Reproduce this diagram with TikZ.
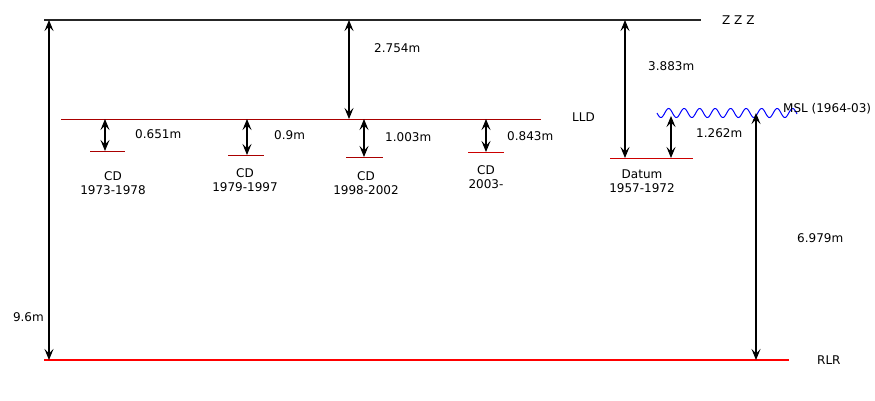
\documentclass[tikz,border=0pt]{standalone}
\usepackage{fontspec}
\setmainfont{DejaVu Sans}
\usetikzlibrary{arrows.meta}
\definecolor{lldred}{RGB}{170,0,0}
\definecolor{cdred}{RGB}{204,0,0}
\definecolor{rlrred}{RGB}{255,0,0}
\definecolor{mslblue}{RGB}{0,0,255}
\tikzset{
    refline/.style={line width=1pt, draw=lldred},
    topline/.style={line width=2pt, draw=black!85},
    baseline/.style={line width=2pt, draw=rlrred},
    dimarrow/.style={line width=1.1pt, {Stealth[length=11pt,width=9pt,inset=4.5pt]}-{Stealth[length=11pt,width=9pt,inset=4.5pt]}},
    tag/.style={inner sep=0pt, anchor=west, font=\fontsize{12}{14.5}\selectfont},
    cdtag/.style={inner sep=0pt, align=center, font=\fontsize{12}{14.5}\selectfont}
}
\begin{document}
\begin{tikzpicture}[x=1pt, y=-1pt]
    \useasboundingbox (0,0) rectangle (875,400);
    % levels
    \draw [topline] (44,20) -- (701,20);
    \draw [refline] (61,119) -- (541,119);
    \draw [refline] (90,151) -- (125,151);
    \draw [refline] (228,155) -- (264,155);
    \draw [refline] (346,157) -- (383,157);
    \draw [refline, draw=cdred] (468,152) -- (504,152);
    \draw [refline, draw=cdred] (610,158) -- (693,158);
    \draw [baseline] (44,360) -- (789,360);
    \draw [mslblue, line width=1pt] plot[domain=0:140, samples=240] ({657+\x}, {113+4.5*sin(\x/15.5*360)});
    % arrow ends
    \coordinate (zzz1) at (49,20);   \coordinate (rlr1) at (49,360);
    \coordinate (zzz2) at (349,20);  \coordinate (lld2) at (349,119);
    \coordinate (zzz3) at (625,20);  \coordinate (dat3) at (625,158);
    \coordinate (msl4) at (671,116); \coordinate (dat4) at (671,158);
    \coordinate (msl5) at (756,113); \coordinate (rlr5) at (756,360);
    \coordinate (lldA) at (105,119); \coordinate (cdA) at (105,151);
    \coordinate (lldB) at (247,119); \coordinate (cdB) at (247,155);
    \coordinate (lldC) at (364,119); \coordinate (cdC) at (364,157);
    \coordinate (lldD) at (486,119); \coordinate (cdD) at (486,152);
    \draw [dimarrow] (zzz1) -- (rlr1);
    \draw [dimarrow] (zzz2) -- (lld2);
    \draw [dimarrow] (zzz3) -- (dat3);
    \draw [dimarrow] (msl4) -- (dat4);
    \draw [dimarrow] (msl5) -- (rlr5);
    \draw [dimarrow] (lldA) -- (cdA);
    \draw [dimarrow] (lldB) -- (cdB);
    \draw [dimarrow] (lldC) -- (cdC);
    \draw [dimarrow] (lldD) -- (cdD);
    % labels
    \node (zzz) [tag] at (722,20) {Z Z Z};
    \node (lld) [tag] at (572,117) {LLD};
    \node (rlr) [tag] at (817,360) {RLR};
    \node (msl) [tag] at (783,109) {MSL (1964-03)};
    \node (d96) [tag, anchor=east] at (44,317) {9.6m};
    \node (d2754) [tag] at (374,48) {2.754m};
    \node (d3883) [tag] at (648,66) {3.883m};
    \node (d1262) [tag] at (696,133) {1.262m};
    \node (d6979) [tag] at (797,238) {6.979m};
    \node (d0651) [tag] at (135,134) {0.651m};
    \node (d09) [tag] at (274,135) {0.9m};
    \node (d1003) [tag] at (385,137) {1.003m};
    \node (d0843) [tag] at (507,136) {0.843m};
    \node (cdtA) [cdtag] at (113,183) {CD\\1973-1978};
    \node (cdtB) [cdtag] at (245,180) {CD\\1979-1997};
    \node (cdtC) [cdtag] at (366,183) {CD\\1998-2002};
    \node (cdtD) [cdtag] at (486,177) {CD\\2003-};
    \node (datum) [cdtag] at (642,181) {Datum\\1957-1972};
\end{tikzpicture}
\end{document}
